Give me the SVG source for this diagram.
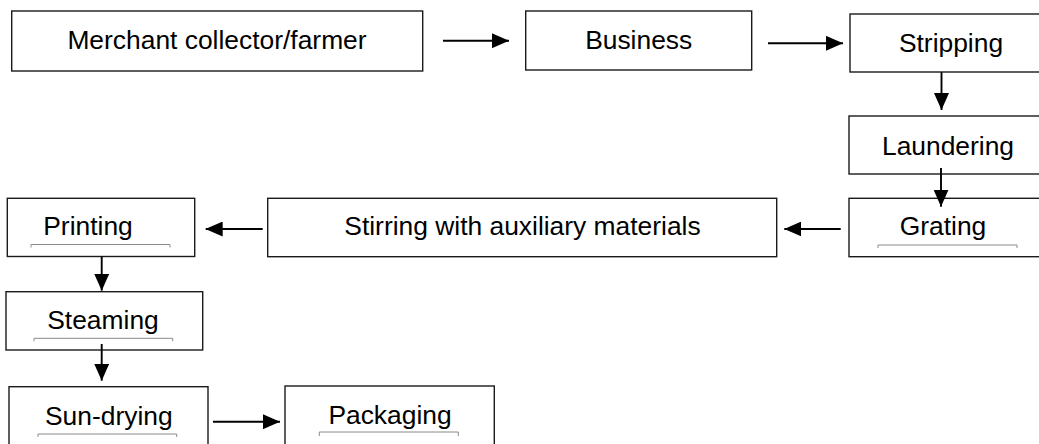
<svg xmlns="http://www.w3.org/2000/svg" width="1039" height="444" viewBox="0 0 1039 444">
<style>
.box{fill:#fff;stroke:#1a1a1a;stroke-width:1.4}
.lbl{font-family:"Liberation Sans",Arial,sans-serif;font-size:26.4px;fill:#000;text-anchor:middle}
.ul{fill:none;stroke:#8a8a8a;stroke-width:1}
.conn{fill:none;stroke:#000;stroke-width:1.9}
</style>
<defs>
<marker id="ah" markerUnits="userSpaceOnUse" markerWidth="17" markerHeight="15" refX="17" refY="7.5" orient="auto">
<path d="M0,0 L17,7.5 L0,15 z" fill="#000"/>
</marker>
</defs>
<rect width="1039" height="444" fill="#fff"/>
<g id="merchant"><rect class="box" x="11.7" y="11" width="411" height="60"/><text class="lbl" x="217" y="49">Merchant collector/farmer</text></g>
<g id="business"><rect class="box" x="525.7" y="11" width="226" height="59"/><text class="lbl" x="638.7" y="49">Business</text></g>
<g id="stripping"><rect class="box" x="850" y="14" width="200" height="58"/><text class="lbl" x="951" y="52">Stripping</text></g>
<g id="laundering"><rect class="box" x="849" y="116" width="200" height="58"/><text class="lbl" x="948" y="155">Laundering</text></g>
<g id="grating"><rect class="box" x="849" y="198.3" width="200" height="58.4"/><text class="lbl" x="943" y="235">Grating</text><path class="ul" d="M878,248 V245 H1017 V248"/></g>
<g id="stirring"><rect class="box" x="267.7" y="198.3" width="509" height="58.4"/><text class="lbl" x="522.5" y="235">Stirring with auxiliary materials</text></g>
<g id="printing"><rect class="box" x="7.3" y="198.3" width="187.4" height="58.2"/><text class="lbl" x="88" y="235">Printing</text><path class="ul" d="M31,247.5 V244.5 H170 V247.5"/></g>
<g id="steaming"><rect class="box" x="6" y="291.7" width="196.7" height="58.3"/><text class="lbl" x="103" y="328.5">Steaming</text><path class="ul" d="M34,341.3 V338.3 H172.7 V341.3"/></g>
<g id="sundrying"><rect class="box" x="9" y="386.7" width="199" height="70"/><text class="lbl" x="108.8" y="424.5">Sun-drying</text><path class="ul" d="M38,437 V434 H176.7 V437"/></g>
<g id="packaging"><rect class="box" x="285" y="386" width="209.3" height="70"/><text class="lbl" x="390" y="423.5">Packaging</text><path class="ul" d="M319.3,436 V432 H458.3 V436"/></g>
<g id="connectors">
<line class="conn" x1="443" y1="40.7" x2="509" y2="40.7" marker-end="url(#ah)"/>
<line class="conn" x1="768" y1="43.3" x2="843" y2="43.3" marker-end="url(#ah)"/>
<line class="conn" x1="941.5" y1="72" x2="941.5" y2="110" marker-end="url(#ah)"/>
<line class="conn" x1="941" y1="168" x2="941" y2="206.7" marker-end="url(#ah)"/>
<line class="conn" x1="840.7" y1="229" x2="784.3" y2="229" marker-end="url(#ah)"/>
<line class="conn" x1="262.7" y1="229" x2="205.7" y2="229" marker-end="url(#ah)"/>
<line class="conn" x1="101.7" y1="256.5" x2="101.7" y2="290.7" marker-end="url(#ah)"/>
<line class="conn" x1="101.7" y1="344" x2="101.7" y2="380.7" marker-end="url(#ah)"/>
<line class="conn" x1="213" y1="421.7" x2="280" y2="421.7" marker-end="url(#ah)"/>
</g>
</svg>
